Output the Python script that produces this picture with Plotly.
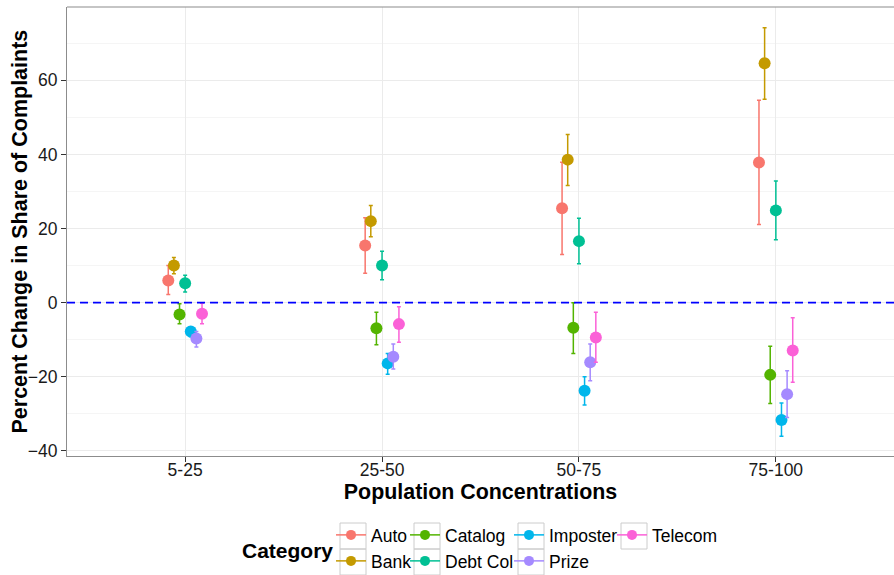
import plotly.graph_objects as go

# ---------------- data ----------------
groups = ["5-25", "25-50", "50-75", "75-100"]
categories = ["Auto", "Bank", "Catalog", "Debt Col", "Imposter", "Prize", "Telecom"]
colors = ["#F8766D", "#C49A00", "#53B400", "#00C094", "#00B6EB", "#A58AFF", "#FB61D7"]

est_auto = [6.0, 15.4, 25.5, 37.8]
lo_auto = [2.2, 7.9, 13.0, 21.1]
hi_auto = [10.0, 22.9, 37.9, 54.6]

est_bank = [10.0, 22.0, 38.6, 64.6]
lo_bank = [7.8, 17.8, 31.6, 54.9]
hi_bank = [12.2, 26.2, 45.4, 74.2]

est_catalog = [-3.2, -6.9, -6.8, -19.5]
lo_catalog = [-5.7, -11.4, -13.7, -27.2]
hi_catalog = [-0.3, -2.6, 0.0, -11.8]

est_debt = [5.2, 10.0, 16.6, 24.9]
lo_debt = [2.9, 6.2, 10.5, 17.0]
hi_debt = [7.4, 13.9, 22.8, 32.8]

est_imposter = [-7.8, -16.4, -23.8, -31.7]
lo_imposter = [-9.2, -19.3, -27.6, -36.1]
hi_imposter = [-6.5, -13.7, -20.0, -27.1]

est_prize = [-9.7, -14.6, -16.1, -24.7]
lo_prize = [-12.0, -17.9, -21.1, -31.0]
hi_prize = [-7.8, -11.2, -11.2, -18.4]

est_telecom = [-3.0, -5.8, -9.4, -12.9]
lo_telecom = [-5.7, -10.7, -16.1, -21.5]
hi_telecom = [-0.2, -1.1, -2.6, -4.1]

estimates = [est_auto, est_bank, est_catalog, est_debt, est_imposter, est_prize, est_telecom]
lowers = [lo_auto, lo_bank, lo_catalog, lo_debt, lo_imposter, lo_prize, lo_telecom]
uppers = [hi_auto, hi_bank, hi_catalog, hi_debt, hi_imposter, hi_prize, hi_telecom]

y_ticks = [-40, -20, 0, 20, 40, 60]

# ---------------- layout constants ----------------
W, H = 894, 575
ML, MR, MT, MB = 67, 0, 7, 119
PW, PH = W - ML - MR, H - MT - MB
FONT = "Liberation Sans, Arial, Helvetica, sans-serif"
dodge = 0.2
n = len(categories)


def px_x(p):
    return (p - ML) / PW


def px_y(p):
    return (H - MB - p) / PH


fig = go.Figure()

for i, cat in enumerate(categories):
    off = (i - (n - 1) / 2) * dodge / n
    xs = [g + 1 + off for g in range(len(groups))]
    est = estimates[i]
    fig.add_trace(go.Scatter(
        x=xs, y=est, mode="markers", name=cat,
        marker=dict(color=colors[i], size=12),
        error_y=dict(type="data", symmetric=False,
                     array=[u - e for u, e in zip(uppers[i], est)],
                     arrayminus=[e - l for e, l in zip(est, lowers[i])],
                     color=colors[i], thickness=1.5, width=2),
        showlegend=False,
    ))

# legend: column-major, 2 rows, 4 columns (one legend box per entry)
key_centers = [353, 427, 531, 634]
row_centers = [536, 562]
row_top = 523
legend_common = dict(
    orientation="v", yanchor="top", xanchor="left",
    bgcolor="rgba(0,0,0,0)", borderwidth=0,
    font=dict(family=FONT, size=17.5, color="#000000"),
    itemwidth=30, tracegroupgap=0,
)
layout_legends = {}
shapes = []
for i, cat in enumerate(categories):
    col, row = i // 2, i % 2
    lname = "legend" if i == 0 else f"legend{i + 1}"
    fig.add_trace(go.Scatter(
        x=[None], y=[None], mode="lines+markers", name=cat,
        marker=dict(color=colors[i], size=10),
        line=dict(color=colors[i], width=1.5),
        legend=lname, showlegend=True,
    ))
    layout_legends[lname] = dict(
        x=px_x(key_centers[col] - 22), y=px_y(row_centers[row] - 19), **legend_common)
    shapes.append(dict(
        type="rect", xref="paper", yref="paper",
        x0=px_x(key_centers[col] - 13), x1=px_x(key_centers[col] + 13),
        y0=px_y(row_top + 26 * row), y1=px_y(row_top + 26 * (row + 1)),
        line=dict(color="#cccccc", width=1), fillcolor="rgba(0,0,0,0)",
        layer="below",
    ))

# top border
shapes.append(dict(type="line", xref="paper", yref="paper", x0=0, x1=1, y0=1, y1=1,
                   line=dict(color="#8c8c8c", width=1.2)))
# dashed zero line
shapes.append(dict(type="line", xref="paper", yref="y", x0=0, x1=1, y0=0, y1=0,
                   line=dict(color="#0000FF", width=1.6, dash="8px,5px")))

fig.update_layout(
    width=W, height=H,
    margin=dict(l=ML, r=MR, t=MT, b=MB, pad=0, autoexpand=False),
    paper_bgcolor="white", plot_bgcolor="white",
    font=dict(family=FONT, color="#000000"),
    shapes=shapes,
    annotations=[
        dict(text="<b>Category</b>", xref="paper", yref="paper",
             x=px_x(335), y=px_y(550), xanchor="right", yanchor="middle",
             showarrow=False, font=dict(family=FONT, size=21, color="#000000")),
        dict(text="<b>Percent Change in Share of Complaints</b>", xref="paper", yref="paper",
             x=px_x(19), y=0.5, xanchor="center", yanchor="middle", textangle=-90,
             showarrow=False, font=dict(family=FONT, size=21.5, color="#000000")),
    ],
    xaxis=dict(
        range=[0.4, 4.6], tickmode="array", tickvals=[1, 2, 3, 4], ticktext=groups,
        showgrid=True, gridcolor="#ebebeb", gridwidth=1,
        zeroline=False, showline=True, linecolor="#8c8c8c", linewidth=1.2,
        ticks="outside", ticklen=5, tickcolor="#333333", tickwidth=1.2,
        ticklabelstandoff=-7,
        tickfont=dict(family=FONT, size=17.5, color="#1a1a1a"),
        title=dict(text="<b>Population Concentrations</b>", standoff=0,
                   font=dict(family=FONT, size=21.4, color="#000000")),
    ),
    yaxis=dict(
        range=[-41.4, 79.8], tickmode="array", tickvals=y_ticks,
        showgrid=True, gridcolor="#ebebeb", gridwidth=1,
        minor=dict(dtick=10, tick0=0, showgrid=True, gridcolor="#f5f5f5", ticks=""),
        zeroline=False, showline=True, linecolor="#8c8c8c", linewidth=1.2,
        ticks="outside", ticklen=5, tickcolor="#333333", tickwidth=1.2,
        tickfont=dict(family=FONT, size=17.5, color="#1a1a1a"),
    ),
    **layout_legends,
)

fig.write_html("out.html")
